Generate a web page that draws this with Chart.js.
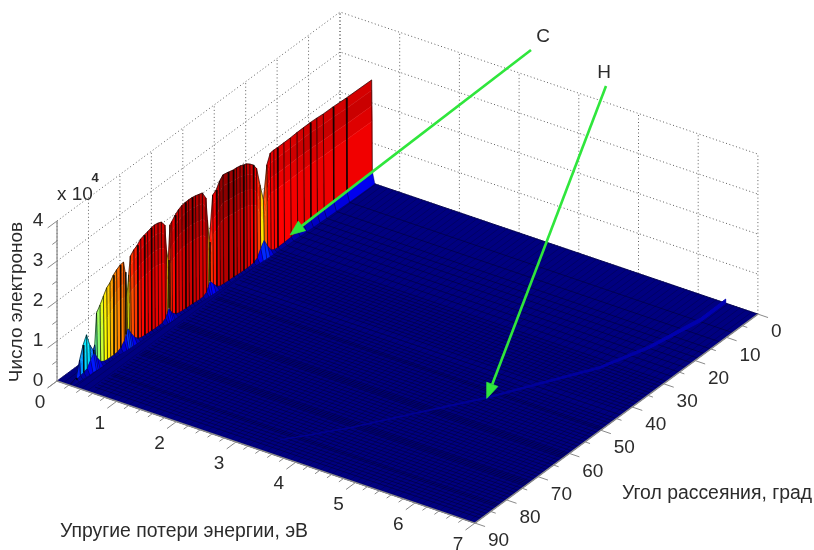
<!DOCTYPE html>
<html>
<head>
<meta charset="utf-8">
<style>
  html, body { margin: 0; padding: 0; background: #fff; }
  canvas { display: block; filter: blur(0.4px); }
</style>
<script src="https://cdn.jsdelivr.net/npm/chart.js@4"></script>
</head>
<body>
<canvas id="chart" width="814" height="550"></canvas>
<script>
// Axis ticks
const energyTicks = [0, 1, 2, 3, 4, 5, 6, 7];
const angleTicks = [0, 10, 20, 30, 40, 50, 60, 70, 80, 90];
const countTicks = [0, 1, 2, 3, 4];

// Carbon ridge, one entry per angle row (counts in units of 10^4)
const angles = [0, 8, 12, 15, 17, 19, 21, 23, 25, 27, 29, 30, 31, 32, 33, 34, 35, 36, 37, 38, 39, 40, 41, 42, 43.5, 45, 46, 47, 48, 49, 49.5, 50, 51, 52, 53, 54, 55, 56, 57, 58, 59, 60, 60.5, 61, 61.5, 62, 63, 64, 65, 66, 67, 68, 69, 70, 71, 72, 72.5, 73, 73.5, 74, 75, 76, 77, 78, 79, 80, 81, 82, 82.5, 83, 84, 85, 86, 87, 88, 90];
const ridgeEnergy = [.53, .525, .515, .51, .505, .5, .495, .49, .485, .48, .475, .47, .465, .46, .455, .45, .445, .44, .437, .435, .432, .43, .425, .42, .415, .41, .405, .4, .395, .39, .387, .385, .38, .375, .37, .365, .36, .356, .352, .348, .344, .34, .337, .335, .332, .33, .325, .32, .315, .31, .305, .3, .295, .29, .285, .28, .278, .275, .272, .27, .265, .26, .257, .254, .252, .25, .245, .24, .237, .235, .232, .23, .225, .22, .215, .21];
const ridgeHeight = [2.57, 2.58, 2.585, 2.58, 2.59, 2.59, 2.58, 2.57, 2.55, 2.54, 2.53, 2.53, 2.51, 2.27, 1.45, 1.88, 2.35, 2.49, 2.57, 2.63, 2.66, 2.69, 2.7, 2.7, 2.73, 2.75, 2.65, 2.48, 2.41, 1.29, 1.87, 2.45, 2.63, 2.65, 2.67, 2.68, 2.68, 2.67, 2.65, 2.6, 2.52, 2.41, 2.36, 1.51, 1.79, 2.44, 2.57, 2.6, 2.61, 2.59, 2.55, 2.52, 2.48, 2.38, 2.32, 2.22, 1.78, 1.25, 1.9, 2.18, 2.16, 2.1, 2.02, 1.89, 1.82, 1.67, 1.5, 1.36, .59, .49, .67, .98, .78, .46, .07, 0];
const skirtHeight = [.3, .25, .22, .2, .18, .16, .13, .11, .08, .06, .05, .05, .1, .25, .45, .3, .12, .05, .04, .03, .03, .03, .03, .03, .03, .03, .04, .08, .2, .32, .22, .1, .04, .03, .03, .03, .03, .03, .03, .04, .06, .14, .22, .32, .22, .12, .05, .04, .03, .03, .03, .03, .03, .06, .15, .3, .4, .48, .35, .22, .1, .05, .04, .04, .04, .05, .1, .25, .35, .4, .3, .15, .1, .08, .03, 0];

// Hydrogen ridge
const hAngles = [0, 8, 21, 32, 43, 52, 63, 74.5, 85];
const hEnergy = [6.46, 6.46, 6.29, 6.03, 5.57, 5.2, 4.65, 4.09, 3.48];
const hHeight = [.1, .09, .07, .05, .04, .03, .02, .012, .005];

const colorMax = 2.7;

// Oblique view of the box, in scale units
function project(e, a, z = 0) {
  return {
    x: 340 + e * 59.7 - a * 3.144,
    y: 172 + e * 20.3 + a * 2.322 - z * 40,
  };
}

// MATLAB jet colormap
function jet(t) {
  t = Math.min(1, Math.max(0, t));
  const ch = (v) => Math.round(255 * Math.min(1, Math.max(0, v)));
  const r = Math.min(4 * t - 1.5, -4 * t + 4.5);
  const g = Math.min(4 * t - 0.5, -4 * t + 3.5);
  const b = Math.min(4 * t + 0.5, -4 * t + 2.5);
  return `rgb(${ch(r)},${ch(g)},${ch(b)})`;
}

const layers = []; // back to front

function addLine(points, color, width, dash) {
  layers.push({
    data: points,
    showLine: true,
    borderColor: color,
    borderWidth: width,
    borderDash: dash || [],
    pointRadius: 0,
    fill: false,
    tension: 0,
  });
}

function addPoly(points, color, edge, edgeWidth) {
  layers.push({
    data: [...points, points[0]],
    showLine: true,
    backgroundColor: color,
    borderColor: edge || color,
    borderWidth: edgeWidth === undefined ? 0.7 : edgeWidth,
    pointRadius: 0,
    fill: "shape",
    tension: 0,
  });
}

// Back planes
const lastE = energyTicks[energyTicks.length - 1];
const lastA = angleTicks[angleTicks.length - 1];
const topZ = countTicks[countTicks.length - 1];
const gridColor = "#5e5e5e";
const gridDash = [1, 2.5];
countTicks.forEach((z) => {
  addLine([project(0, lastA, z), project(0, 0, z), project(lastE, 0, z)], gridColor, 1, gridDash);
});
energyTicks.forEach((e) => addLine([project(e, 0, 0), project(e, 0, topZ)], gridColor, 1, gridDash));
angleTicks.forEach((a) => addLine([project(0, a, 0), project(0, a, topZ)], gridColor, 1, gridDash));

// Floor of the surface
addPoly([project(0, 0), project(lastE, 0), project(lastE, lastA), project(0, lastA)], jet(0));
for (let e = 0; e <= lastE; e += 0.1) {
  addLine([project(e, 0), project(e, lastA)], "rgba(0,0,0,0.3)", 0.7);
}
angles.forEach((a) => addLine([project(ridgeEnergy[0], a), project(lastE, a)], "rgba(0,0,30,0.65)", 0.7));

// H ridge
hAngles.forEach((a, i) => {
  if (i === hAngles.length - 1) return;
  const next = i + 1;
  const tone = jet(hHeight[i] / colorMax + 0.012);
  addPoly([
    project(hEnergy[i], a, hHeight[i]),
    project(hEnergy[next], hAngles[next], hHeight[next]),
    project(hEnergy[next], hAngles[next]),
    project(hEnergy[i], a),
  ], tone, tone, 1);
});

// C ridge: the wall of each row is split into tone bands, from top to skirt
const bandLevels = [1, 0.9, 0.75, 0.6, 0.45];
const bandTones = [0.96, 0.97, 0.95, 0.93];
const edgeColor = "rgba(0,0,0,0.85)";
angles.forEach((a, i) => {
  if (i === angles.length - 1) return;
  const n = i + 1;
  const b = angles[n];
  const e0 = ridgeEnergy[i];
  const e1 = ridgeEnergy[n];
  const z0 = ridgeHeight[i];
  const z1 = ridgeHeight[n];
  const s0 = Math.min(skirtHeight[i], z0);
  const s1 = Math.min(skirtHeight[n], z1);
  const top = Math.max(z0, z1);
  bandTones.forEach((tone, k) => {
    const lastBand = k === bandTones.length - 1;
    const d = 0.003 * k;
    const hi0 = Math.max(z0 * bandLevels[k], s0);
    const hi1 = Math.max(z1 * bandLevels[k], s1);
    const lo0 = lastBand ? s0 : Math.max(z0 * bandLevels[k + 1], s0);
    const lo1 = lastBand ? s1 : Math.max(z1 * bandLevels[k + 1], s1);
    const color = jet(top * tone / colorMax);
    addPoly([project(e0 + d, a, hi0), project(e1 + d, b, hi1), project(e1 + d + 0.003, b, lo1), project(e0 + d + 0.003, a, lo0)], color, color, 0.4);
  });
  addPoly([project(e0 + 0.012, a, s0), project(e1 + 0.012, b, s1), project(e1 + 0.055, b), project(e0 + 0.055, a)],
    jet(Math.max(s0, s1) / colorMax), "rgba(0,0,60,0.5)");
  // row edge on the wall and along the top
  addLine([project(e0, a, z0), project(e0 + 0.012, a, s0)], edgeColor, 0.7);
  addLine([project(e0, a, z0), project(e1, b, z1)], edgeColor, 0.7);
  addLine([project(e1, b, z1), project(e1 + 0.012, b, s1)], edgeColor, 0.7);
});

// Axes and ticks
const axisColor = "#8a8a8a";
addLine([project(0, lastA, 0), project(0, lastA, topZ)], axisColor, 1.2);
addLine([project(0, lastA), project(lastE, lastA)], axisColor, 1.4);
addLine([project(lastE, lastA), project(lastE, 0)], axisColor, 1.4);
for (let z = 0; z <= topZ; z += 0.5) {
  const len = Number.isInteger(z) ? 1 : 0.5;
  addLine([project(0, lastA, z), project(0, lastA + 3 * len, z)], axisColor, 1);
}
for (let k = 0; k <= lastE * 5; k++) {
  const e = k / 5;
  const len = k % 5 === 0 ? 1 : 0.5;
  addLine([project(e, lastA), project(e, lastA + 3 * len)], axisColor, 1);
}
for (let a = 0; a <= lastA; a += 5) {
  const len = a % 10 === 0 ? 1 : 0.5;
  addLine([project(lastE, a), project(lastE + 0.17 * len, a)], axisColor, 1);
}

// Green pointers
const pointerColor = "#2fe63c";
function addPointer(tail, tip) {
  const dx = tip.x - tail.x;
  const dy = tip.y - tail.y;
  const d = Math.hypot(dx, dy);
  const ux = dx / d;
  const uy = dy / d;
  const base = { x: tip.x - ux * 15, y: tip.y - uy * 15 };
  addLine([tail, base], pointerColor, 2.6);
  addPoly([
    tip,
    { x: base.x - uy * 6, y: base.y + ux * 6 },
    { x: base.x + uy * 6, y: base.y - ux * 6 },
  ], pointerColor);
}
addPointer({ x: 531, y: 50 }, { x: 290, y: 235 });
addPointer({ x: 606, y: 86 }, project(hEnergy[5], hAngles[5]));

// Texts, placed in the same scale units
const textPlugin = {
  id: "boxTexts",
  afterDraw(chart) {
    const { ctx, scales } = chart;
    const px = (x) => scales.x.getPixelForValue(x);
    const py = (y) => scales.y.getPixelForValue(y);
    const put = (text, x, y, size, align, angle, weight) => {
      ctx.save();
      ctx.translate(px(x), py(y));
      if (angle) ctx.rotate(angle);
      ctx.font = `${weight || "normal"} ${size}px "Liberation Sans"`;
      ctx.fillStyle = "#2b2b2b";
      ctx.textAlign = align || "center";
      ctx.textBaseline = "middle";
      ctx.fillText(text, 0, 0);
      ctx.restore();
    };
    energyTicks.forEach((e) => {
      const p = project(e, lastA);
      put(String(e), p.x - 17, p.y + 22, 19);
    });
    angleTicks.forEach((a) => {
      const p = project(lastE, a);
      put(String(a), p.x + 13, p.y + 18, 19, "left");
    });
    countTicks.forEach((z) => {
      const p = project(0, lastA, z);
      put(String(z), p.x - 19, p.y, 19);
    });
    put("x 10", 57, 195, 19, "left");
    put("4", 95, 178, 13, "center", 0, "bold");
    put("Число электронов", 17, 302, 19, "center", -Math.PI / 2);
    put("Упругие потери энергии, эВ", 184, 532, 19.4);
    put("Угол рассеяния, град", 622, 494, 19.4, "left");
    put("C", 543, 37, 19);
    put("H", 604, 73, 19);
  },
};

new Chart(document.getElementById("chart").getContext("2d"), {
  type: "scatter",
  data: { datasets: layers.slice().reverse() },
  options: {
    responsive: false,
    animation: false,
    events: [],
    layout: { padding: 0 },
    plugins: { legend: { display: false }, tooltip: { enabled: false } },
    scales: {
      x: { type: "linear", min: 0, max: 814, display: false },
      y: { type: "linear", min: 0, max: 550, reverse: true, display: false },
    },
  },
  plugins: [textPlugin],
});
</script>
</body>
</html>
